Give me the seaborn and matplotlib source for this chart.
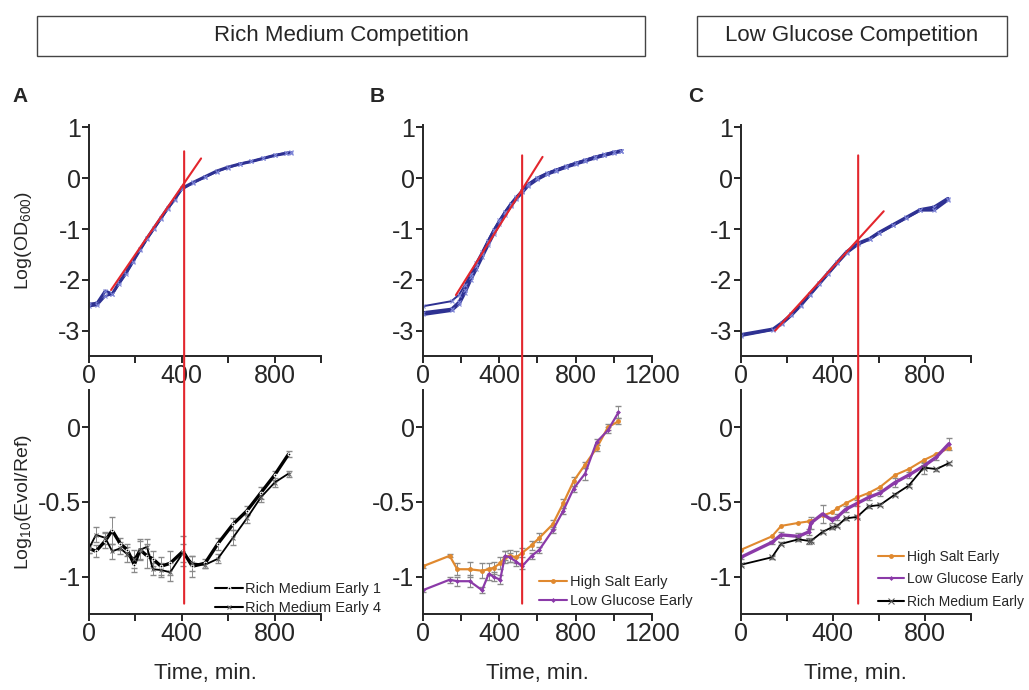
import matplotlib
matplotlib.use("Agg")
import matplotlib.pyplot as plt
from matplotlib.patches import Rectangle, ConnectionPatch
import seaborn as sns

# growth curves, log(OD600)
a_time = [0, 35, 70, 100, 130, 160, 190, 220, 250, 280, 310, 340, 370, 400,
          450, 500, 550, 600, 650, 700, 750, 800, 850, 870]
a_od1 = [-2.48, -2.46, -2.22, -2.28, -2.05, -1.85, -1.62, -1.40, -1.18, -0.98, -0.78, -0.58, -0.40, -0.20,
         -0.08, 0.03, 0.14, 0.22, 0.28, 0.33, 0.39, 0.45, 0.49, 0.50]
a_od2 = [-2.52, -2.50, -2.32, -2.28, -2.08, -1.88, -1.65, -1.42, -1.20, -1.00, -0.80, -0.60, -0.42, -0.22,
         -0.09, 0.02, 0.13, 0.21, 0.28, 0.33, 0.39, 0.45, 0.50, 0.51]

b_time = [0, 150, 190, 220, 250, 280, 310, 340, 370, 400, 430, 460, 490, 520,
          550, 600, 650, 700, 750, 800, 850, 900, 950, 1000, 1040]
b_od1 = [-2.68, -2.60, -2.47, -2.25, -2.00, -1.78, -1.55, -1.32, -1.10, -0.90, -0.72, -0.55, -0.40, -0.28,
         -0.15, -0.02, 0.08, 0.15, 0.22, 0.28, 0.34, 0.40, 0.45, 0.50, 0.53]
b_od2 = [-2.65, -2.58, -2.44, -2.20, -1.95, -1.72, -1.50, -1.27, -1.05, -0.86, -0.68, -0.52, -0.38, -0.26,
         -0.13, 0.00, 0.09, 0.16, 0.23, 0.29, 0.35, 0.41, 0.46, 0.51, 0.54]
b_od3 = [-2.52, -2.42, -2.29, -2.10, -1.88, -1.66, -1.45, -1.23, -1.02, -0.83, -0.66, -0.50, -0.37, -0.25,
         -0.12, 0.00, 0.10, 0.17, 0.24, 0.30, 0.36, 0.42, 0.47, 0.51, 0.54]

c_time = [0, 140, 180, 220, 260, 300, 340, 380, 420, 460, 510, 560, 600, 660, 720, 780, 840, 900]
c_od1 = [-3.08, -2.97, -2.84, -2.68, -2.49, -2.28, -2.07, -1.86, -1.65, -1.45, -1.28, -1.19,
         -1.07, -0.92, -0.77, -0.62, -0.57, -0.40]
c_od2 = [-3.10, -2.98, -2.86, -2.70, -2.51, -2.30, -2.09, -1.88, -1.67, -1.47, -1.30, -1.20,
         -1.08, -0.93, -0.78, -0.63, -0.63, -0.43]

# exponential fit lines (start, end)
a_fit_t = [95, 483]
a_fit_y = [-2.2, 0.39]
b_fit_t = [173, 627]
b_fit_y = [-2.3, 0.42]
c_fit_t = [149, 621]
c_fit_y = [-3.0, -0.65]

# end of exponential phase
a_cut = 410
b_cut = 520
c_cut = 510

# competition, log10(Evol/Ref)
a_rel_time = [0, 30, 70, 100, 135, 165, 195, 220, 250, 275, 310, 350, 405, 445,
              500, 555, 620, 680, 740, 800, 860]
a_rel1 = [-0.81, -0.83, -0.76, -0.69, -0.78, -0.82, -0.92, -0.82, -0.86, -0.88, -0.93, -0.91, -0.83, -0.93,
          -0.91, -0.78, -0.65, -0.56, -0.44, -0.32, -0.18]
a_err1 = [0.03, 0.04, 0.05, 0.09, 0.04, 0.04, 0.05, 0.07, 0.08, 0.05, 0.06, 0.08, 0.10, 0.07,
          0.03, 0.04, 0.04, 0.03, 0.04, 0.03, 0.02]
a_rel4 = [-0.81, -0.72, -0.74, -0.83, -0.81, -0.85, -0.88, -0.82, -0.80, -0.95, -0.955, -0.97, -0.84, -0.91,
          -0.92, -0.88, -0.74, -0.61, -0.47, -0.37, -0.31]
a_err4 = [0.03, 0.05, 0.04, 0.05, 0.04, 0.05, 0.06, 0.06, 0.05, 0.04, 0.05, 0.06, 0.06, 0.05,
          0.02, 0.03, 0.05, 0.03, 0.03, 0.03, 0.02]

b_rel_time = [0, 140, 180, 245, 310, 345, 370, 405, 430, 455, 490, 520, 570, 610,
              680, 735, 790, 850, 910, 970, 1025]
b_salt = [-0.93, -0.86, -0.95, -0.95, -0.96, -0.95, -0.94, -0.91, -0.87, -0.86, -0.87, -0.84, -0.79, -0.74,
          -0.65, -0.51, -0.36, -0.25, -0.14, 0.00, 0.04]
b_salt_err = [0.01, 0.01, 0.04, 0.05, 0.05, 0.04, 0.04, 0.04, 0.04, 0.04, 0.04, 0.03, 0.03, 0.03,
              0.03, 0.03, 0.03, 0.02, 0.02, 0.02, 0.02]
b_glc = [-1.09, -1.02, -1.03, -1.03, -1.09, -0.98, -1.00, -1.02, -0.86, -0.87, -0.90, -0.93, -0.86, -0.82,
         -0.69, -0.56, -0.41, -0.31, -0.10, -0.02, 0.10]
b_glc_err = [0.01, 0.02, 0.03, 0.04, 0.02, 0.04, 0.03, 0.03, 0.03, 0.03, 0.03, 0.02, 0.02, 0.02,
             0.02, 0.02, 0.02, 0.04, 0.02, 0.02, 0.04]

c_rel_time = [0, 135, 175, 250, 295, 305, 355, 395, 420, 455, 505, 555, 605, 670, 730, 795, 850, 905]
c_salt = [-0.82, -0.73, -0.66, -0.64, -0.63, -0.63, -0.59, -0.57, -0.54, -0.51, -0.47, -0.44, -0.40,
          -0.32, -0.28, -0.22, -0.18, -0.14]
c_glc = [-0.87, -0.77, -0.72, -0.73, -0.70, -0.64, -0.58, -0.62, -0.60, -0.55, -0.51, -0.47, -0.44,
         -0.37, -0.32, -0.26, -0.20, -0.11]
c_glc_err = [0.01, 0.01, 0.02, 0.02, 0.02, 0.04, 0.06, 0.02, 0.02, 0.02, 0.02, 0.02, 0.02,
             0.03, 0.02, 0.02, 0.02, 0.04]
c_rich = [-0.92, -0.87, -0.78, -0.75, -0.76, -0.76, -0.70, -0.67, -0.66, -0.61, -0.60, -0.53, -0.52,
          -0.45, -0.39, -0.27, -0.28, -0.24]
c_rich_err = [0.01, 0.01, 0.01, 0.01, 0.02, 0.01, 0.01, 0.01, 0.01, 0.01, 0.01, 0.01, 0.01,
              0.01, 0.01, 0.04, 0.01, 0.01]

section_titles = ["Rich Medium Competition", "Low Glucose Competition"]
panel_letters = ["A", "B", "C"]

BLUE = "#2e3192"
RED = "#e3262d"
ORANGE = "#e0892f"
PURPLE = "#8b3aa8"
GREY = "#8a8a8a"

sns.set_style("ticks")
plt.rcParams['font.family'] = ['Liberation Sans', 'DejaVu Sans']
plt.rcParams['mathtext.fontset'] = 'custom'
plt.rcParams['mathtext.rm'] = 'Liberation Sans'

fig = plt.figure(figsize=(10.29, 6.9), dpi=100)

lefts = [0.0865, 0.411, 0.720]
widths = [0.2255, 0.2225, 0.2235]
xmaxes = [1000, 1200, 1000]
top_axes = []
bot_axes = []
for left, width in zip(lefts, widths):
    top_axes.append(fig.add_axes([left, 0.484, width, 0.335]))
    bot_axes.append(fig.add_axes([left, 0.110, width, 0.325]))

def style(ax, xmax, ylim, yticks, ylabels):
    ax.set_xlim(0, xmax)
    ax.set_ylim(*ylim)
    ax.set_xticks(range(0, xmax + 1, 200))
    ax.set_xticklabels([str(t) if t % 400 == 0 else "" for t in range(0, xmax + 1, 200)])
    ax.set_yticks(yticks)
    ax.set_yticklabels(ylabels)
    ax.tick_params(labelsize=18, width=1.4, length=5, pad=1)
    for s in ["left", "bottom"]:
        ax.spines[s].set_linewidth(1.4)
    sns.despine(ax=ax)

# top row: growth curves
growth = [
    (a_time, [a_od1, a_od2], [2.2, 1.6], a_fit_t, a_fit_y),
    (b_time, [b_od1, b_od2, b_od3], [2.4, 2.4, 1.4], b_fit_t, b_fit_y),
    (c_time, [c_od1, c_od2], [2.4, 2.0], c_fit_t, c_fit_y),
]
for ax, xmax, (t, curves, lws, ft, fy) in zip(top_axes, xmaxes, growth):
    for y, lw in zip(curves, lws):
        sns.lineplot(x=t, y=y, ax=ax, color=BLUE, linewidth=lw, marker="x",
                     markersize=3, markeredgecolor="#7f86d8", markeredgewidth=0.8)
    sns.lineplot(x=ft, y=fy, ax=ax, color=RED, linewidth=1.5)
    style(ax, xmax, (-3.5, 1.05), [-3, -2, -1, 0, 1], ["-3", "-2", "-1", "0", "1"])

# bottom row: competitions
ax = bot_axes[0]
ax.errorbar(a_rel_time, a_rel1, yerr=a_err1, fmt="none", ecolor=GREY, elinewidth=0.7, capsize=2)
ax.errorbar(a_rel_time, a_rel4, yerr=a_err4, fmt="none", ecolor=GREY, elinewidth=0.7, capsize=2)
sns.lineplot(x=a_rel_time, y=a_rel1, ax=ax, color="black", linewidth=2.4, marker="o", markersize=2,
             label="Rich Medium Early 1")
sns.lineplot(x=a_rel_time, y=a_rel4, ax=ax, color="black", linewidth=1.3, marker="x", markersize=3,
             markeredgecolor="#666666", label="Rich Medium Early 4")

ax = bot_axes[1]
ax.errorbar(b_rel_time, b_salt, yerr=b_salt_err, fmt="none", ecolor=GREY, elinewidth=0.7, capsize=2)
ax.errorbar(b_rel_time, b_glc, yerr=b_glc_err, fmt="none", ecolor=GREY, elinewidth=0.7, capsize=2)
sns.lineplot(x=b_rel_time, y=b_salt, ax=ax, color=ORANGE, linewidth=1.6, marker="o", markersize=3.5,
             markeredgewidth=0, label="High Salt Early")
sns.lineplot(x=b_rel_time, y=b_glc, ax=ax, color=PURPLE, linewidth=1.6, marker="D", markersize=2.5,
             markeredgewidth=0, label="Low Glucose Early")

ax = bot_axes[2]
ax.errorbar(c_rel_time, c_glc, yerr=c_glc_err, fmt="none", ecolor=GREY, elinewidth=0.7, capsize=2)
ax.errorbar(c_rel_time, c_rich, yerr=c_rich_err, fmt="none", ecolor=GREY, elinewidth=0.7, capsize=2)
sns.lineplot(x=c_rel_time, y=c_salt, ax=ax, color=ORANGE, linewidth=1.5, marker="o", markersize=3.5,
             markeredgewidth=0, label="High Salt Early")
sns.lineplot(x=c_rel_time, y=c_glc, ax=ax, color=PURPLE, linewidth=2.4, marker="D", markersize=2.5,
             markeredgewidth=0, label="Low Glucose Early")
sns.lineplot(x=c_rel_time, y=c_rich, ax=ax, color="black", linewidth=1.3, marker="x", markersize=4,
             markeredgecolor="#555555", label="Rich Medium Early")

legend_anchor = [(0.517, -0.03), (0.483, 0.0), (0.572, 0.0)]
legend_spacing = [0.35, 0.35, 0.6]
legend_size = [10.5, 10.5, 10]
for ax, xmax, anchor, sp, fs in zip(bot_axes, xmaxes, legend_anchor, legend_spacing, legend_size):
    style(ax, xmax, (-1.25, 0.25), [-1, -0.5, 0], ["-1", "-0.5", "0"])
    ax.set_xlabel("Time, min.", fontsize=16, labelpad=12)
    leg = ax.legend(loc="lower left", bbox_to_anchor=anchor, frameon=False, fontsize=fs,
                    handlelength=1.9, handletextpad=0.2, labelspacing=sp, borderaxespad=0)
    for line in leg.get_lines():
        line.set_linewidth(1.5)

top_axes[0].set_ylabel("Log(OD$_{600}$)", fontsize=14)
bot_axes[0].set_ylabel("Log$_{10}$(Evol/Ref)", fontsize=14)
top_axes[0].yaxis.set_label_coords(-0.235, 0.5)
bot_axes[0].yaxis.set_label_coords(-0.235, 0.5)

# vertical cut line spanning both rows
for ax_t, ax_b, cut, ytop in zip(top_axes, bot_axes, [a_cut, b_cut, c_cut], [0.53, 0.45, 0.45]):
    con = ConnectionPatch(xyA=(cut, ytop), coordsA=ax_t.transData,
                          xyB=(cut, -1.18), coordsB=ax_b.transData,
                          color=RED, linewidth=1.5)
    fig.add_artist(con)

# section header boxes
W, H = 1029, 690
boxes = [(37, 645), (697, 1007)]
for (x0, x1), title in zip(boxes, section_titles):
    rect = Rectangle((x0 / W, 1 - 56 / H), (x1 - x0) / W, 40 / H, transform=fig.transFigure,
                     facecolor="white", edgecolor="#444444", linewidth=1.0)
    fig.add_artist(rect)
    fig.text((x0 + x1) / 2 / W, 1 - 35 / H, title, ha="center", va="center", fontsize=16)

for x, letter in zip([12, 370, 688], panel_letters):
    fig.text(x / W, 1 - 97 / H, letter, ha="left", va="center", fontsize=15, fontweight="bold")

fig.savefig("out.png", dpi=100)
